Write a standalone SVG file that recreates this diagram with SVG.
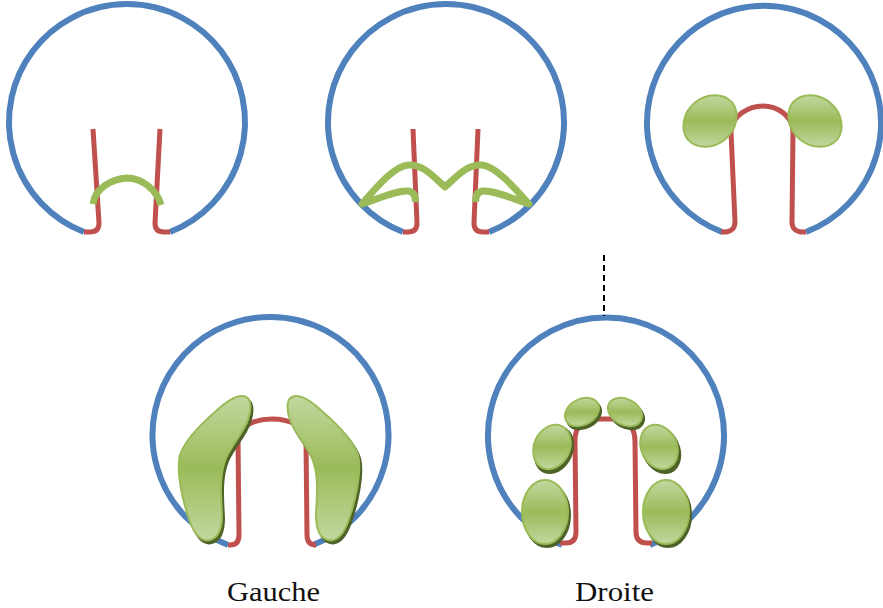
<svg xmlns="http://www.w3.org/2000/svg" xmlns:xlink="http://www.w3.org/1999/xlink" width="883" height="608" viewBox="0 0 883 608">
  <style>
    .ring { fill: none; stroke: #4f81bd; stroke-width: 6; stroke-linecap: butt; }
    .tube { fill: none; stroke: #c0504d; stroke-width: 5; stroke-linejoin: round; }
    .band { fill: none; stroke: #9bbb59; stroke-width: 7; stroke-linejoin: round; }
    .lobe { fill: url(#lobeFill); stroke: #9bbb59; stroke-width: 2; }
    .shade { fill: #4f6228; stroke: #4f6228; stroke-width: 2; }
    .label { font-family: "Liberation Serif", "DejaVu Serif", serif; font-size: 27px; fill: #111; }
  </style>
  <defs>
    <!-- light at top and bottom, full green through the middle -->
    <linearGradient id="lobeFill" x1="0" y1="0" x2="0" y2="1">
      <stop offset="0" stop-color="#c3d79f"/>
      <stop offset="0.5" stop-color="#9bbb59"/>
      <stop offset="1" stop-color="#c3d79f"/>
    </linearGradient>
    <path id="blob" d="M 246 397 C 240 394, 230 398, 215 412 C 200 425, 185 440, 180 455 C 176 470, 182 500, 190 522 C 195 535, 202 542, 210 540 C 218 538, 222 530, 222 515 C 221 495, 219 475, 226 458 C 232 445, 244 432, 248 420 C 252 408, 251 399, 246 397 Z"/>
  </defs>

  <!-- stage 1: thin band across the tubes -->
  <g id="stage1">
    <path class="ring" d="M 84 232 A 118 118 0 1 1 170 232"/>
    <path class="tube" d="M 93 129 L 99 223 Q 99 232 90 232 L 84 232"/>
    <path class="tube" d="M 160 129 L 155 223 Q 155 232 164 232 L 170 232"/>
    <path class="band" d="M 93 204 C 95 188, 112 179, 127 178 C 142 178, 157 190, 161 205"/>
  </g>

  <!-- stage 2: folded band -->
  <g id="stage2">
    <path class="ring" d="M 403 232 A 118 118 0 1 1 489 232"/>
    <path class="tube" d="M 413 129 L 417 223 Q 417 232 408 232 L 403 232"/>
    <path class="tube" d="M 478 129 L 474 223 Q 474 232 483 232 L 489 232"/>
    <path class="band" d="M 415 202 C 416 196, 414 192, 408 191 C 398 190, 380 198, 362 204 C 378 185, 395 166, 408 165 C 422 164, 432 175, 445 187 C 458 175, 468 164, 482 165 C 495 166, 512 185, 529 204 C 511 198, 493 190, 483 191 C 477 192, 475 196, 476 202"/>
  </g>

  <!-- stage 3: two lobes on the loop (tilted ellipses drawn as arcs so the shading stays vertical) -->
  <g id="stage3">
    <path class="ring" d="M 722 232 A 117 117 0 1 1 806 232"/>
    <path class="tube" d="M 721 232 Q 735 233 735 222 L 731 132 C 731 115, 750 106, 763 106 C 776 106, 793 115, 793 132 L 792 222 Q 792 233 806 232"/>
    <path class="lobe" d="M 687.8 139.6 A 29 25 -40 0 1 732.2 102.4 A 29 25 -40 0 1 687.8 139.6 Z"/>
    <path class="lobe" d="M 792.8 102.4 A 29 25 40 0 1 837.2 139.6 A 29 25 40 0 1 792.8 102.4 Z"/>
  </g>

  <!-- left-hand result: two long lobes -->
  <g id="gauche">
    <path class="ring" d="M 228 545 A 118 118 0 1 1 313 545"/>
    <path class="tube" d="M 228 545 L 230 545 Q 239 545 239 535 L 238 440 C 238 426, 255 419, 272 419 C 289 419, 306 426, 306 440 L 307 535 Q 307 545 316 545"/>
    <use xlink:href="#blob" class="shade" transform="translate(2 3)"/>
    <use xlink:href="#blob" class="shade" transform="translate(540 3) scale(-1 1)"/>
    <use xlink:href="#blob" class="lobe"/>
    <use xlink:href="#blob" class="lobe" transform="translate(538 0) scale(-1 1)"/>
  </g>

  <!-- right-hand result: six small lobes -->
  <g id="droite">
    <path class="ring" d="M 562 545 A 118 118 0 1 1 650 545"/>
    <path class="tube" d="M 560 543 L 566 543 Q 576 543 576 532 L 575 440 C 575 425, 585 419, 600 419 L 612 419 C 627 419, 635 427, 635 441 L 636 532 Q 636 543 647 543 L 652 543"/>
    <g id="droite-shadows">
      <ellipse class="shade" cx="547" cy="515" rx="23" ry="32"/>
      <ellipse class="shade" cx="668" cy="515" rx="23" ry="32"/>
      <ellipse class="shade" cx="554" cy="450" rx="18" ry="24" transform="rotate(25 554 450)"/>
      <ellipse class="shade" cx="661" cy="450" rx="18" ry="24" transform="rotate(-25 661 450)"/>
      <ellipse class="shade" cx="584" cy="415" rx="18" ry="13" transform="rotate(-28 584 415)"/>
      <ellipse class="shade" cx="627" cy="415" rx="18" ry="13" transform="rotate(28 627 415)"/>
    </g>
    <ellipse class="lobe" cx="545" cy="512" rx="23" ry="32"/>
    <ellipse class="lobe" cx="666" cy="512" rx="23" ry="32"/>
    <path class="lobe" d="M 535.7 439.4 A 18 24 25 0 1 568.3 454.6 A 18 24 25 0 1 535.7 439.4 Z"/>
    <path class="lobe" d="M 642.7 454.6 A 18 24 -25 0 1 675.3 439.4 A 18 24 -25 0 1 642.7 454.6 Z"/>
    <path class="lobe" d="M 566.1 420.45 A 18 13 -28 0 1 597.9 403.55 A 18 13 -28 0 1 566.1 420.45 Z"/>
    <path class="lobe" d="M 609.1 403.55 A 18 13 28 0 1 640.9 420.45 A 18 13 28 0 1 609.1 403.55 Z"/>
  </g>

  <g id="connectors">
    <line x1="604" y1="255" x2="604" y2="316" stroke="#000" stroke-width="2" stroke-dasharray="6 4"/>
  </g>

  <g id="labels">
    <text class="label" x="227" y="601" textLength="93" lengthAdjust="spacingAndGlyphs">Gauche</text>
    <text class="label" x="575" y="601" textLength="79" lengthAdjust="spacingAndGlyphs">Droite</text>
  </g>
</svg>
